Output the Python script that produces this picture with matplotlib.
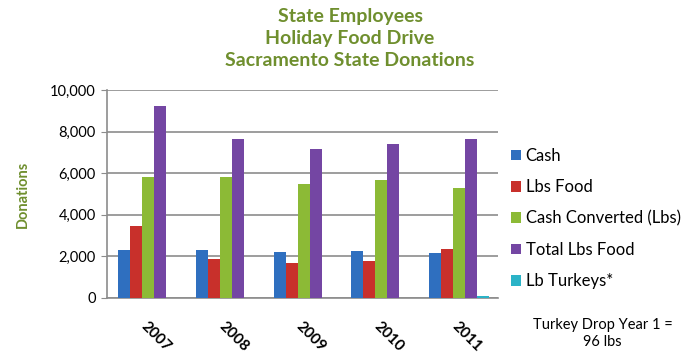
import numpy as np
import matplotlib
matplotlib.use("Agg")
import matplotlib.pyplot as plt

years = ["2007", "2008", "2009", "2010", "2011"]
series_names = ["Cash", "Lbs Food", "Cash Converted (Lbs)", "Total Lbs Food", "Lb Turkeys*"]
cash = [2300, 2300, 2220, 2250, 2170]
lbs_food = [3450, 1850, 1700, 1780, 2340]
cash_converted = [5800, 5800, 5500, 5670, 5300]
total_lbs_food = [9240, 7640, 7150, 7420, 7640]
lb_turkeys = [0, 0, 0, 0, 96]

colors = ["#2f6fbf", "#c8302b", "#8cba36", "#7446a3", "#2bb3c7"]
green = "#6f8f2e"

plt.rcParams['font.family'] = ['Lato', 'DejaVu Sans']

fig = plt.figure(figsize=(7, 3.53), dpi=100)
ax = fig.add_axes([0.153, 0.156, 0.558, 0.589])

x = np.arange(len(years))
w = 0.154
data = [cash, lbs_food, cash_converted, total_lbs_food, lb_turkeys]
handles = []
for i, (vals, c) in enumerate(zip(data, colors)):
    b = ax.bar(x + (i - 2) * w, vals, w, color=c, edgecolor="none", zorder=3)
    handles.append(b)

ax.set_xlim(-0.53, 4.5)
ax.set_ylim(0, 10000)
ax.set_yticks(range(0, 10001, 2000))
ax.set_yticklabels([f"{v:,}" for v in range(0, 10001, 2000)], fontsize=10.5)
ax.yaxis.grid(True, color="#8c8c8c", linewidth=1.2, zorder=0)
ax.set_axisbelow(True)
ax.set_xticks(x)
ax.set_xticklabels(years, rotation=-45, ha="left", va="top", fontsize=11, fontweight="bold",
                   rotation_mode="anchor")
ax.tick_params(axis="x", length=0, pad=15)
ax.tick_params(axis="y", length=4, color="#8c8c8c", pad=4)
for s in ["top", "right"]:
    ax.spines[s].set_visible(False)
for s in ["left", "bottom"]:
    ax.spines[s].set_color("#8c8c8c")
    ax.spines[s].set_linewidth(1.2)

ax.set_ylabel("Donations", color=green, fontsize=10.5, fontweight="bold", labelpad=15)

fig.suptitle("State Employees\nHoliday Food Drive\nSacramento State Donations",
             x=0.5, y=0.978, color=green, fontsize=14, fontweight="bold", linespacing=1.38)

leg = fig.legend(handles, series_names, loc="upper left", bbox_to_anchor=(0.72, 0.60),
                 frameon=False, fontsize=12, handlelength=0.6, handleheight=0.6,
                 handletextpad=0.3, labelspacing=0.92, borderaxespad=0)

fig.text(0.861, 0.056, "Turkey Drop Year 1 =\n96 lbs", ha="center", va="center",
         fontsize=10.5, linespacing=1.25)

fig.savefig("out.png", dpi=100)
